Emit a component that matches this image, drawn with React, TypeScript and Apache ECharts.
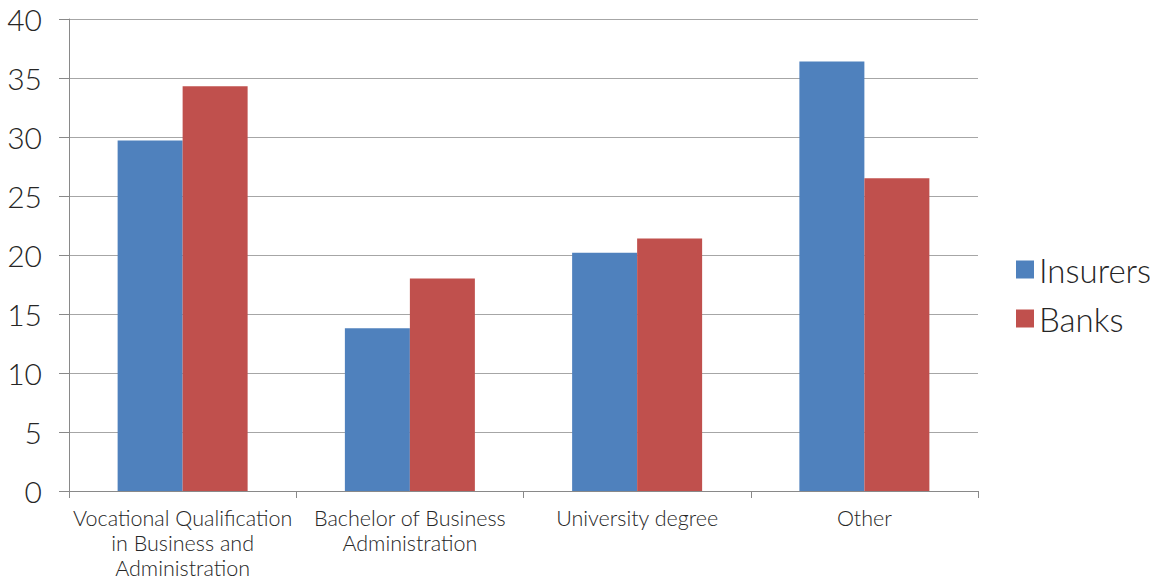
import React, { useEffect, useRef } from "react";
import * as echarts from "echarts";

const categories = [
  "Vocational Qualification\nin Business and\nAdministration",
  "Bachelor of Business\nAdministration",
  "University degree",
  "Other",
];
const insurers = [29.7, 13.8, 20.2, 36.4];
const banks = [34.3, 18.0, 21.4, 26.5];
const yTicks = { min: 0, max: 40, interval: 5 };

const FONT = "Lato";

export default function App() {
  const ref = useRef<HTMLDivElement>(null);
  useEffect(() => {
    const chart = echarts.init(ref.current!, null, { renderer: "svg" });
    chart.setOption({
      animation: false,
      textStyle: { fontFamily: FONT, fontWeight: 300 },
      grid: {
        left: 69,
        right: 172,
        top: 19,
        bottom: 90,
        containLabel: false,
        outerBoundsMode: "none",
      },
      legend: {
        orient: "vertical",
        left: 1011,
        top: 248,
        itemWidth: 18,
        itemHeight: 18,
        itemGap: 16,
        icon: "rect",
        textStyle: {
          fontSize: 33,
          lineHeight: 33,
          color: "#262626",
          fontFamily: FONT,
          fontWeight: 300,
          padding: [0, 0, 0, 0],
        },
        data: ["Insurers", "Banks"],
      },
      xAxis: {
        type: "category",
        data: categories,
        axisLine: { lineStyle: { color: "#898989", width: 1 } },
        axisTick: { show: true, length: 7, lineStyle: { color: "#898989" } },
        axisLabel: {
          fontSize: 21.5,
          lineHeight: 25,
          color: "#262626",
          fontFamily: FONT,
          fontWeight: 300,
          margin: 14,
          interval: 0,
        },
      },
      yAxis: {
        type: "value",
        min: yTicks.min,
        max: yTicks.max,
        interval: yTicks.interval,
        axisLine: { show: true, lineStyle: { color: "#898989", width: 1 } },
        axisTick: { show: true, length: 10, lineStyle: { color: "#898989" } },
        splitLine: { show: true, lineStyle: { color: "#a6a6a6", width: 1 } },
        axisLabel: {
          fontSize: 30,
          color: "#262626",
          fontFamily: FONT,
          fontWeight: 300,
          margin: 27,
        },
      },
      series: [
        {
          name: "Insurers",
          type: "bar",
          data: insurers,
          barWidth: 65,
          barGap: "0%",
          itemStyle: { color: "#4f81bd" },
        },
        {
          name: "Banks",
          type: "bar",
          data: banks,
          barWidth: 65,
          barGap: "0%",
          itemStyle: { color: "#c0504d" },
        },
      ],
    });
    return () => chart.dispose();
  }, []);
  return (
    <div
      ref={ref}
      style={{ position: "fixed", left: 0, top: 0, width: 1150, height: 581, background: "#fff" }}
    />
  );
}
